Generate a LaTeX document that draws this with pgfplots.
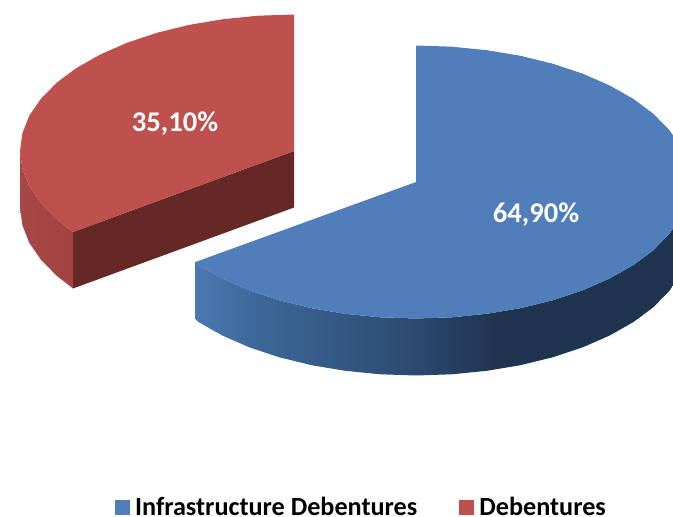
\documentclass[border=0pt]{standalone}
\usepackage{pgfplots}
\usepackage{fontspec}
\setmainfont{Carlito}
\pgfplotsset{compat=1.18}
\definecolor{bluetop}{HTML}{4F7EBB}
\definecolor{redtop}{HTML}{BE504D}
\definecolor{redcut}{HTML}{652826}
\definecolor{bw0}{HTML}{4A78B0}
\definecolor{bw1}{HTML}{3C6697}
\definecolor{bw2}{HTML}{335780}
\definecolor{bw3}{HTML}{2D4A72}
\definecolor{bw4}{HTML}{1F344F}
\definecolor{rw0}{HTML}{A84846}
\definecolor{rw1}{HTML}{A04341}
\pgfdeclarehorizontalshading{bluewall}{100bp}{
  color(0bp)=(bw0); color(25bp)=(bw0); color(31.8bp)=(bw1); color(40.3bp)=(bw2);
  color(46.9bp)=(bw3); color(55.4bp)=(bw4); color(100bp)=(bw4)}
\pgfdeclarehorizontalshading{redwall}{100bp}{
  color(0bp)=(rw0); color(25bp)=(rw0); color(75bp)=(rw1); color(100bp)=(rw1)}
\begin{document}
\begin{tikzpicture}
\useasboundingbox (0,0) rectangle (673pt,517pt);
\begin{axis}[
  scale only axis, width=673pt, height=517pt,
  xmin=0, xmax=673, ymin=0, ymax=517, y dir=reverse,
  hide axis,
  legend image code/.code={\path (0pt,0pt);\fill[#1,draw=none] (2.5pt,-7.5pt) rectangle (17.5pt,7.5pt);\path (21pt,0pt);},
  legend columns=2,
  legend style={draw=none, fill=none, at={(axis cs:360,507)}, anchor=center,
    inner sep=0pt, outer sep=0pt,
    font=\fontsize{26.2}{28}\selectfont\bfseries,
    /tikz/every even column/.append style={column sep=37pt}},
]
% Debentures: outer wall
\addplot[shading=redwall, draw=none, forget plot] coordinates {
 (73,232) (56.7,219.3) (40.9,203.2) (29.3,186.3) (22.4,168.8) (20,151)
 (20,207.5) (22.4,225.3) (29.3,242.8) (40.9,259.7) (56.7,275.8) (73,288.5)
} -- cycle;
% Debentures: cut face
\addplot[fill=redcut, draw=none, forget plot] coordinates {
 (73,232) (294,151) (294,207.5) (73,288.5)
} -- cycle;
% Infrastructure Debentures: outer wall
\addplot[shading=bluewall, draw=none, forget plot] coordinates {
 (690,182) (687.6,199.8) (680.7,217.3) (669.1,234.2) (653.3,250.3) (633.4,265.1)
 (609.7,278.5) (582.8,290.3) (553,300.2) (520.9,308.1) (486.9,313.8) (451.8,317.3)
 (416,318.5) (380.2,317.3) (345.1,313.8) (311.1,308.1) (279,300.2) (249.2,290.3)
 (222.3,278.5) (198.6,265.1) (195.5,262)
 (195.5,319) (198.6,322.1) (222.3,335.5) (249.2,347.3) (279,357.2) (311.1,365.1)
 (345.1,370.8) (380.2,374.3) (416,375.5) (451.8,374.3) (486.9,370.8) (520.9,365.1)
 (553,357.2) (582.8,347.3) (609.7,335.5) (633.4,322.1) (653.3,307.3) (669.1,291.2)
 (680.7,274.3) (687.6,256.8) (690,239)
} -- cycle;
% Infrastructure Debentures: top face
\addplot[fill=bluetop, draw=none] coordinates {
 (416,182) (416,45.5) (451.8,46.7) (486.9,50.2) (520.9,55.9) (553,63.8) (582.8,73.7)
 (609.7,85.5) (633.4,98.9) (653.3,113.7) (669.1,129.8) (680.7,146.7) (687.6,164.2)
 (690,182) (687.6,199.8) (680.7,217.3) (669.1,234.2) (653.3,250.3) (633.4,265.1)
 (609.7,278.5) (582.8,290.3) (553,300.2) (520.9,308.1) (486.9,313.8) (451.8,317.3)
 (416,318.5) (380.2,317.3) (345.1,313.8) (311.1,308.1) (279,300.2) (249.2,290.3)
 (222.3,278.5) (198.6,265.1) (195.5,262)
} -- cycle;
\addlegendentry{Infrastructure Debentures}
% Debentures: top face
\addplot[fill=redtop, draw=none] coordinates {
 (294,151) (73,232) (56.7,219.3) (40.9,203.2) (29.3,186.3) (22.4,168.8) (20,151)
 (22.4,133.2) (29.3,115.7) (40.9,98.8) (56.7,82.7) (76.6,67.9) (100.3,54.5)
 (127.2,42.7) (157,32.8) (189.1,24.9) (223.1,19.2) (258.2,15.7) (294,14.5)
} -- cycle;
\addlegendentry{Debentures}
\node[text=white, font=\fontsize{28.6}{30}\selectfont\bfseries] at (axis cs:175,124) {35,10\%};
\node[text=white, font=\fontsize{28.6}{30}\selectfont\bfseries] at (axis cs:536,214.5) {64,90\%};
\end{axis}
\end{tikzpicture}
\end{document}
